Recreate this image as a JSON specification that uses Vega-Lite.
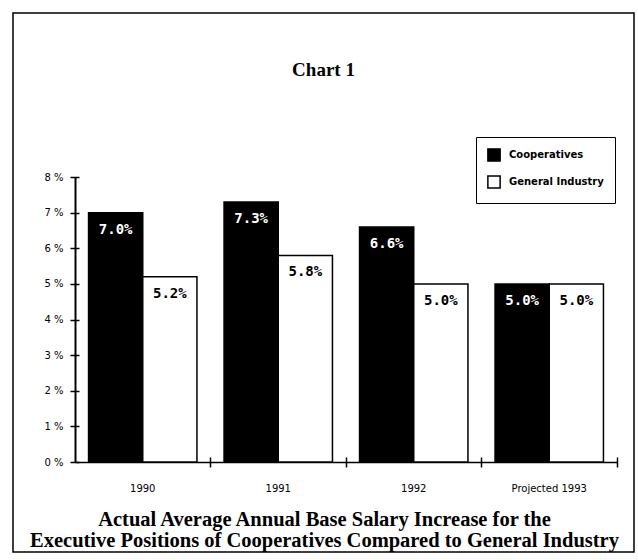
{
  "$schema": "https://vega.github.io/schema/vega-lite/v6.json",
  "autosize": {"type": "none"},
  "width": 621,
  "height": 539,
  "padding": {"left": 13, "top": 13, "right": 4, "bottom": 8},
  "background": "white",
  "config": {
    "view": {"stroke": "black", "strokeWidth": 1.5},
    "axis": {"domainColor": "black", "tickColor": "black", "domainWidth": 1.5, "tickWidth": 1.5, "labelColor": "black", "grid": false, "labelFont": "DejaVu Sans", "labelFontSize": 10}
  },
  "title": {
    "text": "Chart 1",
    "font": "Liberation Serif",
    "fontSize": 19,
    "fontWeight": "bold",
    "color": "black",
    "anchor": "middle",
    "frame": "group",
    "offset": -67
  },
  "data": {
    "values": [
      {"year": "1990", "series": "Cooperatives", "value": 0.070},
      {"year": "1990", "series": "General Industry", "value": 0.052},
      {"year": "1991", "series": "Cooperatives", "value": 0.073},
      {"year": "1991", "series": "General Industry", "value": 0.058},
      {"year": "1992", "series": "Cooperatives", "value": 0.066},
      {"year": "1992", "series": "General Industry", "value": 0.050},
      {"year": "Projected 1993", "series": "Cooperatives", "value": 0.050},
      {"year": "Projected 1993", "series": "General Industry", "value": 0.050}
    ]
  },
  "resolve": {"axis": {"x": "independent", "y": "independent"}},
  "layer": [
    {
      "mark": {"type": "bar", "stroke": "black", "strokeWidth": 1.5},
      "encoding": {
        "x": {
          "field": "year",
          "type": "nominal",
          "sort": null,
          "scale": {"range": [62, 604], "paddingInner": 0.2, "paddingOuter": 0.1},
          "axis": {
            "orient": "bottom",
            "offset": -90,
            "labelAngle": 0,
            "ticks": false,
            "tickSize": 0,
            "labelPadding": 21,
            "domain": true,
            "title": ["Actual Average Annual Base Salary Increase  for the", "Executive Positions of Cooperatives Compared to General Industry"],
            "titleFont": "Liberation Serif",
            "titleFontSize": 20.5,
            "titleFontWeight": "bold",
            "titleColor": "black",
            "titleLineHeight": 21,
            "titlePadding": 16,
            "titleX": 311,
            "titleAlign": "center"
          }
        },
        "xOffset": {"field": "series", "type": "nominal", "sort": ["Cooperatives", "General Industry"], "scale": {"paddingInner": 0, "paddingOuter": 0}},
        "y": {
          "field": "value",
          "type": "quantitative",
          "scale": {"domain": [0, 0.08], "range": [449, 164], "nice": false, "zero": true},
          "axis": {
            "orient": "left",
            "offset": -62,
            "title": null,
            "domain": true,
            "domainWidth": 2,
            "ticks": false,
            "tickSize": 0,
            "values": [0, 0.01, 0.02, 0.03, 0.04, 0.05, 0.06, 0.07, 0.08],
            "format": ".0%",
            "labelExpr": "replace(datum.label, '%', ' %')",
            "labelPadding": 12
          }
        },
        "color": {
          "field": "series",
          "type": "nominal",
          "sort": ["Cooperatives", "General Industry"],
          "scale": {"domain": ["Cooperatives", "General Industry"], "range": ["black", "white"]},
          "legend": {
            "title": null,
            "orient": "none",
            "legendX": 463,
            "legendY": 124,
            "strokeColor": "black",
            "fillColor": "white",
            "padding": 11,
            "symbolType": "square",
            "symbolSize": 150,
            "symbolStrokeColor": "black",
            "symbolStrokeWidth": 1.5,
            "rowPadding": 7,
            "labelFont": "DejaVu Sans",
            "labelFontSize": 10,
            "labelFontWeight": "bold",
            "labelColor": "black",
            "labelOffset": 8
          }
        }
      }
    },
    {
      "mark": {"type": "text", "baseline": "top", "dy": 10, "font": "DejaVu Sans Mono", "fontSize": 14, "fontWeight": "bold"},
      "encoding": {
        "x": {
          "field": "year",
          "type": "nominal",
          "sort": null,
          "axis": {
            "orient": "bottom",
            "offset": -95,
            "bandPosition": 1.125,
            "ticks": true,
            "tickSize": 10,
            "labels": false,
            "domain": false,
            "title": null
          }
        },
        "xOffset": {"field": "series", "type": "nominal", "sort": ["Cooperatives", "General Industry"]},
        "y": {
          "field": "value",
          "type": "quantitative",
          "axis": {
            "orient": "left",
            "offset": -66,
            "title": null,
            "domain": false,
            "labels": false,
            "ticks": true,
            "tickSize": 9,
            "values": [0, 0.01, 0.02, 0.03, 0.04, 0.05, 0.06, 0.07, 0.08]
          }
        },
        "text": {"field": "value", "type": "quantitative", "format": ".1%"},
        "fill": {
          "field": "series",
          "type": "nominal",
          "scale": {"domain": ["Cooperatives", "General Industry"], "range": ["white", "black"]},
          "legend": null
        }
      }
    }
  ]
}
